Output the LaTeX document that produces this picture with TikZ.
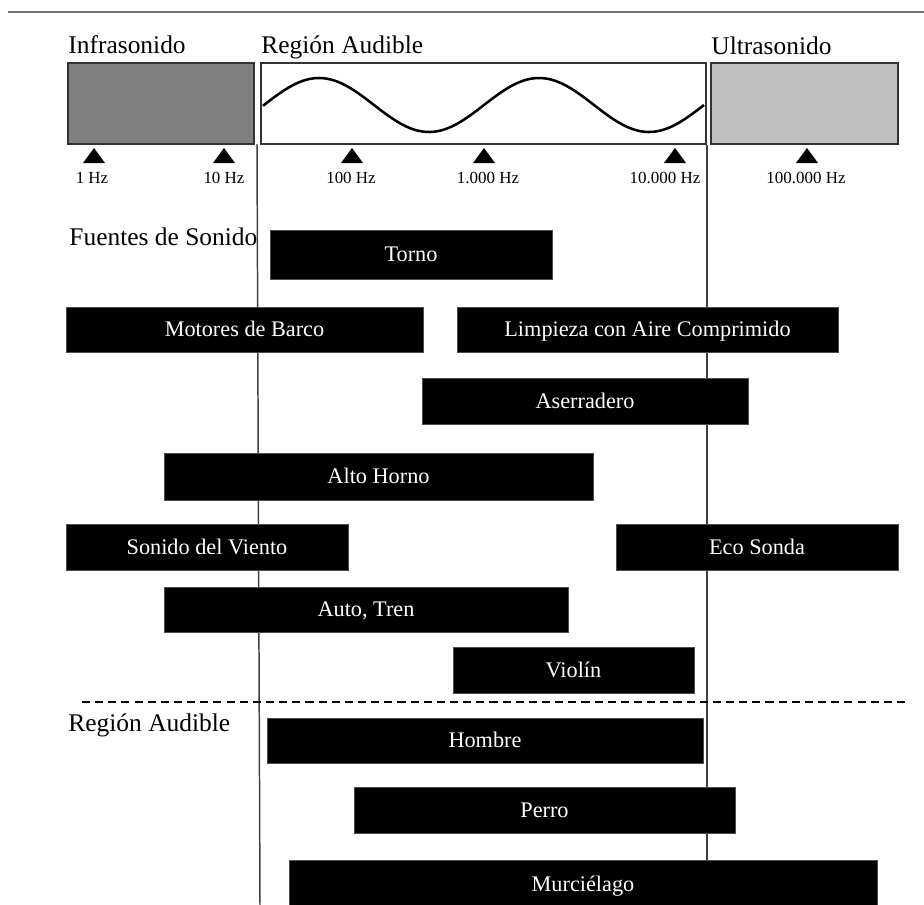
\documentclass[tikz,border=0pt]{standalone}
\usepackage{fontspec}
\setmainfont{Liberation Serif}
\usepackage{tikz}
\usetikzlibrary{calc}
\tikzset{
  region/.style={draw=black!80, line width=0.8pt, inner sep=0pt, anchor=north west, minimum height={81*0.4717pt}},
  title/.style={anchor=base west, inner sep=0pt, font=\fontsize{12}{14}\selectfont},
  hz/.style={anchor=base, inner sep=0pt, font=\fontsize{8}{10}\selectfont},
  bar/.style={fill=black, draw=black!70, line width=0.4pt, text=white, inner sep=0pt, text height=7pt, text depth=0pt, font=\fontsize{10.5}{12}\selectfont},
  limit/.style={black!75, line width=0.7pt}
}

\begin{document}
\begin{tikzpicture}[x=0.4717pt, y=-0.4717pt]
\useasboundingbox (0,0) rectangle (924,905);
\draw[black!55, line width=0.6pt] (8,12) -- (924,12);

\node[region, fill=black!50, minimum width={186*0.4717pt}] (infra) at (67,62) {};
\node[region, fill=white, minimum width={445*0.4717pt}] (audible) at (260,62) {};
\node[region, fill=black!25, minimum width={187*0.4717pt}] (ultra) at (710,62) {};
\node[title] (infratxt) at ($(infra.north west)+(1,-9)$) {Infrasonido};
\node[title] (audibletxt) at ($(audible.north west)+(1,-9)$) {Región Audible};
\node[title] (ultratxt) at ($(ultra.north west)+(1,-8)$) {Ultrasonido};
\draw[line width=1.2pt] plot[domain=263:704, samples=120, smooth] (\x,{105-27*cos(1.63636*(\x-319))});

\foreach \nm/\tx/\lx/\txt in {t1/94/92/1 Hz, t2/224/224/10 Hz, t3/352/351/100 Hz, t4/484/488/1.000 Hz, t5/675/665/10.000 Hz, t6/807/806/100.000 Hz}{
  \fill (\tx-11,163) -- (\tx+11,163) -- (\tx,148) -- cycle;
  \node[hz] (\nm) at (\lx,183) {\txt};
}

\draw[limit] (257,144) -- (260,905);
\draw[limit] (707,145) -- (707,860);
\draw[line width=0.6pt, dash pattern=on 3.8pt off 2.4pt] (82,702) -- (907,702);

\node[title] (fuentes) at (69,245) {Fuentes de Sonido};
\node[title] (oido) at (68,731) {Región Audible};

\foreach \nm/\xa/\ya/\xb/\yb/\txt in {
  torno/270/230/552/279/Torno,
  barco/66/307/423/352/Motores de Barco,
  limpieza/457/307/838/352/Limpieza con Aire Comprimido,
  aserradero/422/378/748/424/Aserradero,
  horno/164/453/593/500/Alto Horno,
  viento/66/524/348/570/Sonido del Viento,
  eco/616/524/898/570/Eco Sonda,
  auto/164/587/568/632/{Auto, Tren},
  violin/453/647/694/693/Violín,
  hombre/267/718/703/763/Hombre,
  perro/354/787/735/833/Perro,
  murcielago/289/860/877/908/Murciélago}
  \node[bar, minimum width={(\xb-\xa)*0.4717pt}, minimum height={(\yb-\ya)*0.4717pt}] (\nm) at ({(\xa+\xb)/2},{(\ya+\yb)/2}) {\txt};
\end{tikzpicture}
\end{document}
